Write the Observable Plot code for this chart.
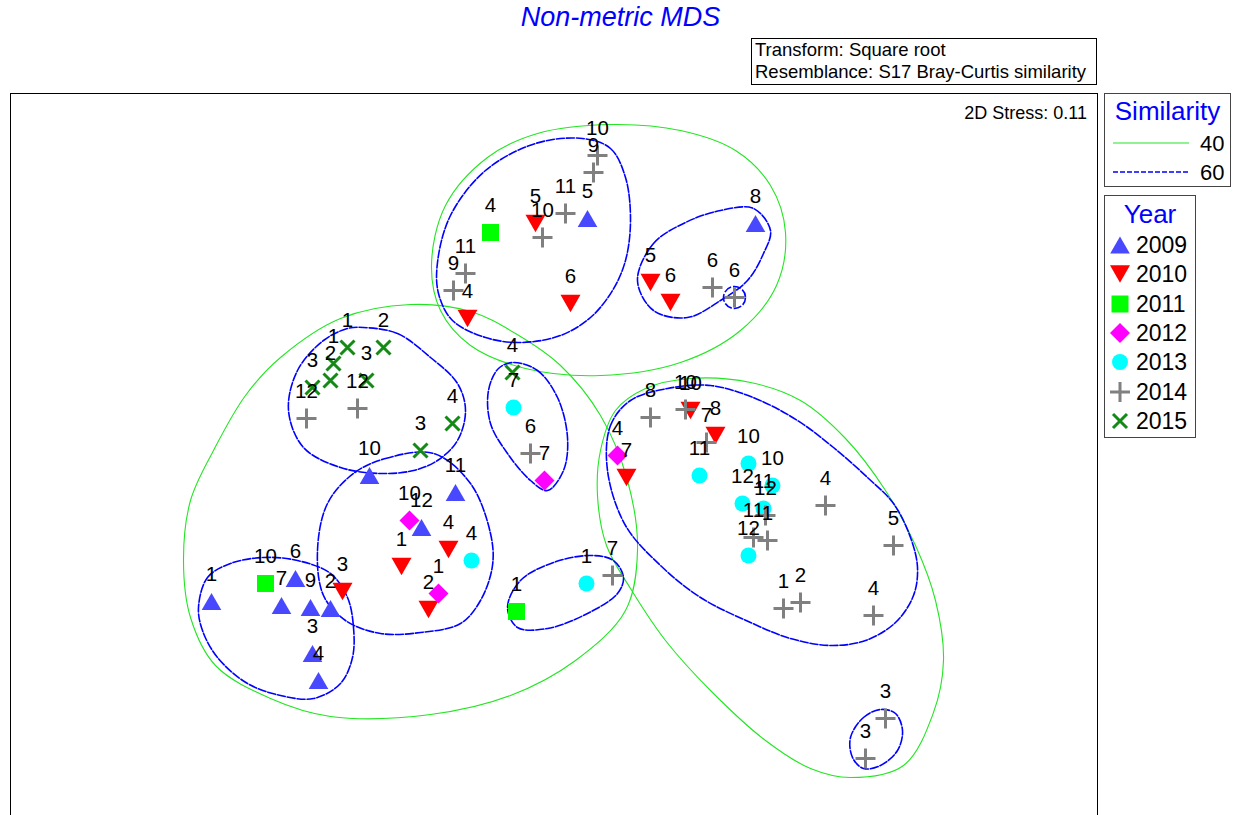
<!DOCTYPE html>
<html><head><meta charset="utf-8">
<script src="https://cdn.jsdelivr.net/npm/d3@7"></script>
<script src="https://cdn.jsdelivr.net/npm/@observablehq/plot@0.6"></script>
<style>
body{margin:0;background:#fff;font-family:"Liberation Sans",Arial,sans-serif;}
#wrap{position:relative;width:1233px;height:815px;overflow:hidden;background:#fff;}
#chart{position:absolute;left:0;top:0;}
.abs{position:absolute;white-space:nowrap;}
.title{left:0;width:1241px;top:4px;text-align:center;color:#0000ff;font-style:italic;font-size:27px;line-height:27px;}
.tbox{left:751px;top:38px;width:346px;height:47px;box-sizing:border-box;border:1px solid #000;font-size:18.5px;line-height:22px;padding-left:3px;}
.stress{right:146px;top:104px;font-size:18px;line-height:18px;}
.lbox{box-sizing:border-box;border:1px solid #444;background:#fff;}
.ltitle{left:0;right:0;text-align:center;color:#0000ff;font-size:26px;line-height:26px;}
.ltext{font-size:22px;line-height:22px;}
</style></head>
<body>
<div id="wrap">
  <div id="chart"></div>
  <div class="abs title">Non-metric MDS</div>
  <div class="abs tbox">Transform: Square root<br>Resemblance: S17 Bray-Curtis similarity</div>
  <div class="abs stress">2D Stress: 0.11</div>
  <div class="abs lbox" id="simbox" style="left:1104px;top:93px;width:127px;height:94px;"></div>
  <div class="abs lbox" id="yearbox" style="left:1104px;top:195px;width:92px;height:243px;"></div>
</div>
<script>
// ---------------- data (MDS coordinates) ----------------
const years = ["2009","2010","2011","2012","2013","2014","2015"];
const similarityLevels = ["40","60"];

const pts2009 = [[-3.39,-1.51,"1"],[-2.69,-1.55,"7"],[-2.40,-1.57,"9"],[-2.20,-1.58,"2"],[-2.55,-1.28,"6"],
  [-2.38,-2.03,"3"],[-2.32,-2.30,"4"],[-1.81,-0.25,"10"],[-0.95,-0.42,"11"],[-1.29,-0.77,"12"],
  [0.37,2.32,"5"],[2.05,2.27,"8"]];
const pts2010 = [[-2.08,-1.41,"3"],[-1.49,-1.16,"1"],[-1.02,-0.99,"4"],[-1.22,-1.59,"2"],[-0.83,1.32,"4"],
  [-0.15,2.27,"5"],[0.20,1.47,"6"],[1.00,1.68,"5"],[1.20,1.48,"6"],[1.40,0.40,"10"],[1.65,0.15,"8"],[0.76,-0.27,"7"]];
const pts2011 = [[-2.85,-1.33,"10"],[-0.60,2.18,"4"],[-0.34,-1.61,"1"]];
const pts2012 = [[-1.41,-0.70,"10"],[-1.12,-1.43,"1"],[-0.06,-0.30,"7"],[0.67,-0.05,"4"]];
const pts2013 = [[-0.79,-1.10,"4"],[-0.37,0.43,"7"],[0.36,-1.33,"1"],[1.49,-0.25,"11"],[1.98,-0.13,"10"],
  [2.22,-0.35,"10"],[1.92,-0.53,"12"],[2.13,-0.58,"11"],[1.98,-1.05,"12"]];
const pts2014 = [[-2.44,0.32,"12"],[-1.93,0.42,"12"],[-0.85,1.77,"11"],[-0.97,1.60,"9"],[-0.08,2.13,"10"],
  [0.15,2.37,"11"],[0.43,2.78,"9"],[0.47,2.95,"10"],[1.62,1.63,"6"],[1.84,1.53,"6"],[-0.20,-0.03,"6"],
  [0.62,-1.25,"7"],[1.00,0.33,"8"],[1.35,0.41,"10"],[1.56,0.08,"7"],[2.15,-0.65,"12"],[2.03,-0.87,"11"],
  [2.17,-0.90,"1"],[2.75,-0.55,"4"],[3.43,-0.95,"5"],[2.33,-1.58,"1"],[2.50,-1.52,"2"],[3.23,-1.65,"4"],
  [3.35,-2.68,"3"],[3.15,-3.08,"3"]];
const pts2015 = [[-2.03,1.03,"1"],[-1.67,1.03,"2"],[-2.17,0.87,"1"],[-2.20,0.70,"2"],[-2.38,0.63,"3"],
  [-1.84,0.70,"3"],[-0.98,0.27,"4"],[-1.30,0.00,"3"],[-0.38,0.78,"4"]];

// similarity contours (outline points)
const g40a = [[0.60,3.26],[1.30,3.20],[1.85,3.00],[2.20,2.65],[2.35,2.18],[2.26,1.65],[1.90,1.20],[1.30,0.88],
  [0.50,0.75],[-0.25,0.82],[-0.80,1.05],[-1.10,1.40],[-1.19,1.85],[-1.05,2.45],[-0.63,2.93],[-0.13,3.17]];
const g40b = [[-1.40,1.46],[-0.80,1.39],[-0.35,1.17],[0.10,0.85],[0.50,0.35],[0.77,-0.30],[0.87,-1.00],
  [0.75,-1.60],[0.25,-2.10],[-0.40,-2.45],[-1.20,-2.64],[-2.20,-2.66],[-2.80,-2.48],[-3.35,-2.15],
  [-3.60,-1.67],[-3.67,-1.10],[-3.60,-0.50],[-3.37,0.00],[-3.05,0.55],[-2.70,0.93],[-2.10,1.32]];
const g40c = [[1.40,0.72],[2.00,0.68],[2.50,0.50],[2.95,0.12],[3.35,-0.40],[3.65,-0.95],[3.85,-1.50],
  [3.93,-2.10],[3.83,-2.62],[3.53,-3.15],[3.00,-3.27],[2.60,-3.18],[2.15,-2.90],[1.60,-2.40],[1.15,-1.90],
  [0.80,-1.38],[0.56,-0.95],[0.47,-0.45],[0.50,0.00],[0.65,0.40],[0.95,0.62]];
const b60a = [[0.32,3.12],[0.60,3.02],[0.75,2.73],[0.80,2.30],[0.75,1.90],[0.62,1.60],[0.40,1.33],[0.10,1.15],
  [-0.30,1.08],[-0.65,1.13],[-0.98,1.30],[-1.12,1.57],[-1.13,1.88],[-1.00,2.35],[-0.65,2.80],[-0.15,3.07]];
const b60b = [[0.87,1.70],[1.03,2.07],[1.35,2.28],[1.70,2.40],[2.03,2.42],[2.20,2.20],[2.13,1.97],[1.97,1.70],
  [1.70,1.50],[1.37,1.33],[1.03,1.40]];
const b60c = [[-1.87,1.23],[-1.53,1.17],[-1.20,0.93],[-0.93,0.67],[-0.85,0.40],[-0.93,0.10],[-1.13,-0.10],
  [-1.37,-0.20],[-1.70,-0.23],[-2.10,-0.17],[-2.47,0.03],[-2.62,0.40],[-2.53,0.80],[-2.27,1.10],[-2.03,1.22]];
const b60d = [[-1.97,-0.23],[-1.65,-0.08],[-1.17,-0.03],[-0.80,-0.33],[-0.60,-0.83],[-0.58,-1.15],[-0.70,-1.50],
  [-0.90,-1.73],[-1.30,-1.82],[-1.70,-1.83],[-2.05,-1.70],[-2.27,-1.45],[-2.33,-1.00],[-2.23,-0.53]];
const b60e = [[-3.52,-1.57],[-3.43,-1.27],[-3.20,-1.13],[-2.87,-1.07],[-2.53,-1.10],[-2.20,-1.23],[-2.03,-1.47],
  [-1.97,-1.77],[-1.98,-2.07],[-2.10,-2.33],[-2.37,-2.48],[-2.70,-2.45],[-3.03,-2.33],[-3.33,-2.07],[-3.48,-1.80]];
const b60f = [[-0.37,0.88],[-0.13,0.80],[0.07,0.53],[0.17,0.13],[0.13,-0.20],[-0.03,-0.40],[-0.20,-0.30],
  [-0.43,-0.03],[-0.60,0.27],[-0.62,0.60],[-0.52,0.82]];
const b60g = [[-0.43,-1.57],[-0.30,-1.30],[0.03,-1.12],[0.40,-1.05],[0.63,-1.10],[0.73,-1.27],[0.67,-1.43],
  [0.37,-1.63],[-0.03,-1.78],[-0.33,-1.77]];
const b60h = [[0.57,-0.20],[0.60,0.25],[0.80,0.50],[1.17,0.62],[1.60,0.65],[2.05,0.52],[2.47,0.30],[2.83,0.03],
  [3.17,-0.27],[3.43,-0.53],[3.60,-0.87],[3.67,-1.17],[3.63,-1.45],[3.45,-1.72],[3.15,-1.90],[2.80,-1.95],
  [2.40,-1.88],[2.00,-1.72],[1.50,-1.47],[1.10,-1.15],[0.75,-0.75]];
const b60i = [[3.00,-2.87],[3.13,-2.67],[3.30,-2.59],[3.45,-2.63],[3.52,-2.80],[3.47,-3.00],[3.30,-3.15],
  [3.13,-3.18],[3.02,-3.07]];
const b60single = [[1.84,1.53]];   // 60% group holding a single sample

// ---------------- build tables ----------------
const yearPts = {"2009":pts2009,"2010":pts2010,"2011":pts2011,"2012":pts2012,"2013":pts2013,"2014":pts2014,"2015":pts2015};
const samples = years.flatMap(yr => yearPts[yr].map(([x,y,label]) => ({year:yr,x,y,label})));
const contourSets = [["40",[g40a,g40b,g40c]],["60",[b60a,b60b,b60c,b60d,b60e,b60f,b60g,b60h,b60i]]];
const contourRows = contourSets.flatMap(([lvl,list]) => list.flatMap((pts,i) => pts.map(([x,y]) => ({level:lvl,id:lvl+"-"+i,x,y}))));

// ---------------- symbols & styles ----------------
const triUp = {draw(c,s){const a=Math.sqrt(s/Math.PI),h=a*0.87;c.moveTo(0,-h);c.lineTo(a,h);c.lineTo(-a,h);c.closePath();}};
const triDown = {draw(c,s){const a=Math.sqrt(s/Math.PI),h=a*0.87;c.moveTo(0,h);c.lineTo(a,-h);c.lineTo(-a,-h);c.closePath();}};
const square = {draw(c,s){const a=Math.sqrt(s/Math.PI);c.moveTo(-a,-a);c.lineTo(a,-a);c.lineTo(a,a);c.lineTo(-a,a);c.closePath();}};
const diamond = {draw(c,s){const a=Math.sqrt(s/Math.PI);c.moveTo(0,-a);c.lineTo(a,0);c.lineTo(0,a);c.lineTo(-a,0);c.closePath();}};
const circle = {draw(c,s){const a=Math.sqrt(s/Math.PI);c.moveTo(a,0);c.arc(0,0,a,0,2*Math.PI);}};
const plus = {draw(c,s){const a=Math.sqrt(s/Math.PI);c.moveTo(-a,0);c.lineTo(a,0);c.moveTo(0,-a);c.lineTo(0,a);}};
const times = {draw(c,s){const a=Math.sqrt(s/Math.PI);c.moveTo(-a,-a);c.lineTo(a,a);c.moveTo(-a,a);c.lineTo(a,-a);}};

const style = {
  "2009":{symbol:triUp,r:9.8,fill:"#4848ff",stroke:"none",sw:0},
  "2010":{symbol:triDown,r:10,fill:"#ff0000",stroke:"none",sw:0},
  "2011":{symbol:square,r:8.5,fill:"#00ff00",stroke:"none",sw:0},
  "2012":{symbol:diamond,r:10,fill:"#ff00ff",stroke:"none",sw:0},
  "2013":{symbol:circle,r:8,fill:"#00ffff",stroke:"none",sw:0},
  "2014":{symbol:plus,r:10,fill:"none",stroke:"#808080",sw:3},
  "2015":{symbol:times,r:7,fill:"none",stroke:"#138a13",sw:3}
};
const levelStyle = {"40":{stroke:"#22e622",width:1.1,dash:null},"60":{stroke:"#0000ff",width:1.6,dash:"8,2"}};

const xDomain = [-5.40, 5.47], yDomain = [-3.65, 3.57];

const marks = [
  Plot.ruleX(xDomain, {stroke:"#000", strokeWidth:1}),
  Plot.ruleY([yDomain[1]], {stroke:"#000", strokeWidth:1}),
  ...similarityLevels.map(lvl => Plot.line(contourRows.filter(d => d.level === lvl), {
    x:"x", y:"y", z:"id", curve:"catmull-rom-closed",
    stroke:levelStyle[lvl].stroke, strokeWidth:levelStyle[lvl].width,
    strokeDasharray:levelStyle[lvl].dash
  })),
  ...years.map(yr => Plot.dot(samples.filter(d => d.year === yr), {
    x:"x", y:"y", symbol:style[yr].symbol, r:style[yr].r,
    fill:style[yr].fill, stroke:style[yr].stroke, strokeWidth:style[yr].sw
  })),
  Plot.dot(b60single, {x:d=>d[0], y:d=>d[1], r:11, fill:"none", stroke:"#0000ff", strokeWidth:1.6, strokeDasharray:"8,2"}),
  Plot.text(samples, {x:"x", y:"y", text:"label", dy:-27, fontSize:20.5, fill:"#000"})
];

const chart = Plot.plot({
  width:1233, height:815,
  marginLeft:10, marginRight:136, marginTop:93, marginBottom:0,
  x:{domain:xDomain, axis:null},
  y:{domain:yDomain, axis:null},
  style:{fontFamily:"'Liberation Sans', Arial, sans-serif", background:"transparent", overflow:"visible"},
  marks
});
document.getElementById("chart").appendChild(chart);

// ---------------- legends ----------------
const simbox = d3.select("#simbox");
simbox.append("div").attr("class","abs ltitle").style("top","4px").text("Similarity");
similarityLevels.forEach((lvl,i) => {
  const cy = 49 + i*29;
  const svg = simbox.append("svg").attr("class","abs").style("left","8px").style("top",(cy-5)+"px")
    .attr("width",76).attr("height",10);
  svg.append("line").attr("x1",0).attr("x2",76).attr("y1",5).attr("y2",5)
    .attr("stroke",levelStyle[lvl].stroke).attr("stroke-width",levelStyle[lvl].width)
    .attr("stroke-dasharray",levelStyle[lvl].dash ? "5,2" : null);
  simbox.append("div").attr("class","abs ltext").style("left","95px").style("top",(cy-10)+"px").text(lvl);
});
const yearbox = d3.select("#yearbox");
yearbox.append("div").attr("class","abs ltitle").style("top","5px").text("Year");
years.forEach((yr,i) => {
  const cy = 49 + i*29.3;
  const st = style[yr];
  const svg = yearbox.append("svg").attr("class","abs").style("left","3px").style("top",(cy-12)+"px")
    .attr("width",24).attr("height",24);
  svg.append("path").attr("transform","translate(12,12)")
    .attr("d", d3.symbol(st.symbol, st.r*st.r*Math.PI)())
    .attr("fill",st.fill).attr("stroke",st.stroke==="none"?null:st.stroke).attr("stroke-width",st.sw||null);
  yearbox.append("div").attr("class","abs ltext").style("left","31px").style("top",(cy-11)+"px").style("font-size","23px").text(yr);
});
</script>
</body></html>
